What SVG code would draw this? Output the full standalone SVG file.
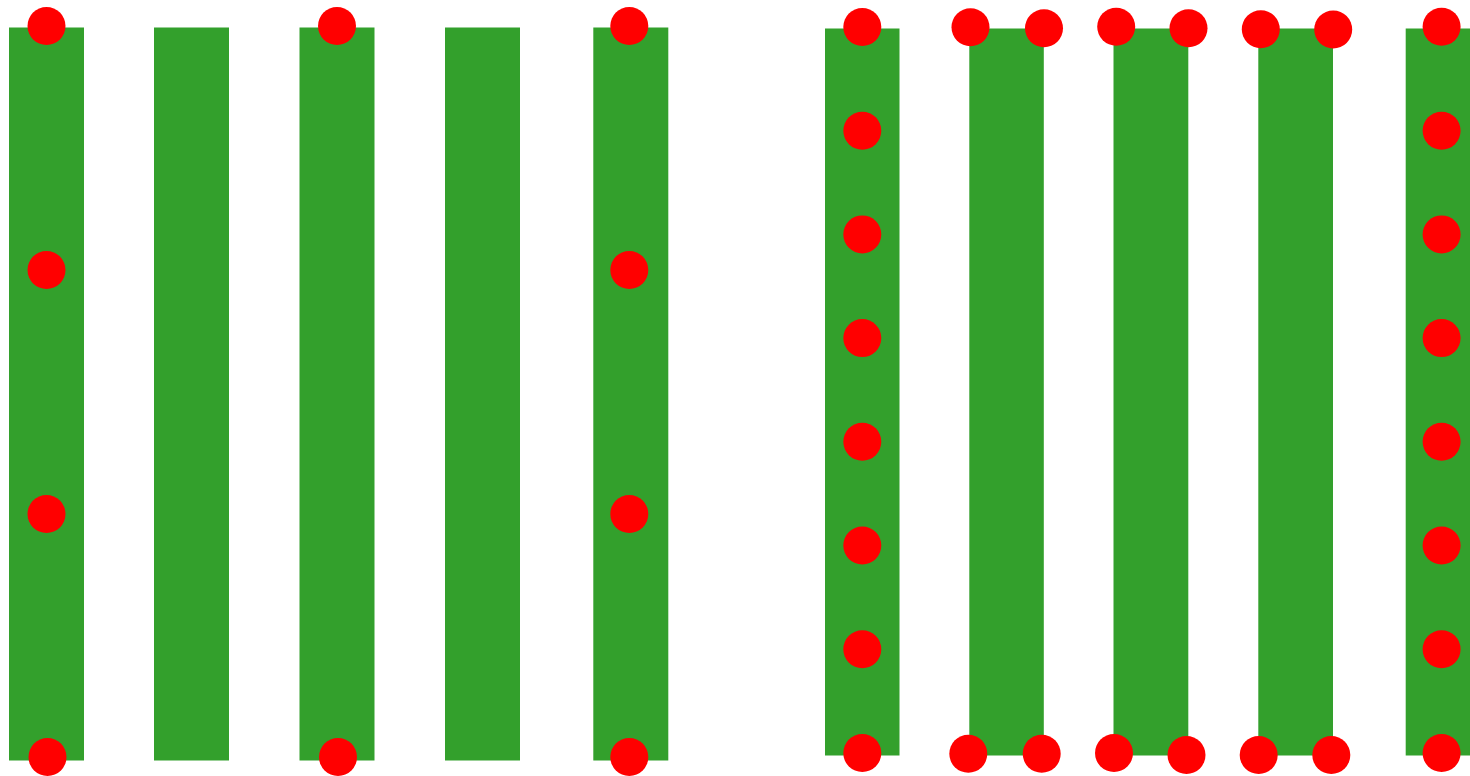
<svg xmlns="http://www.w3.org/2000/svg" width="1470" height="776" viewBox="0 0 1470 776">
<style>
.bar{fill:#33a02c}
.dot{fill:#ff0000}
</style>
<rect width="1470" height="776" fill="#ffffff"/>
<g id="bar1"><rect class="bar" x="9" y="27.5" width="75" height="733"/></g>
<g id="bar2"><rect class="bar" x="154" y="27.5" width="75" height="733"/></g>
<g id="bar3"><rect class="bar" x="299.5" y="27.5" width="75" height="733"/></g>
<g id="bar4"><rect class="bar" x="445" y="27.5" width="75" height="733"/></g>
<g id="bar5"><rect class="bar" x="593.3" y="27.5" width="75" height="733"/></g>
<g id="bar6"><rect class="bar" x="825" y="28.5" width="74.5" height="727"/></g>
<g id="bar7"><rect class="bar" x="969.3" y="28.5" width="74.5" height="727"/></g>
<g id="bar8"><rect class="bar" x="1113.5" y="28.5" width="74.8" height="727"/></g>
<g id="bar9"><rect class="bar" x="1258.3" y="28.5" width="74.7" height="727"/></g>
<g id="bar10"><rect class="bar" x="1405.7" y="28.5" width="75" height="727"/></g>
<g id="dots">
<circle class="dot" cx="46.5" cy="26" r="19"/>
<circle class="dot" cx="46.5" cy="270" r="19"/>
<circle class="dot" cx="46.5" cy="514" r="19"/>
<circle class="dot" cx="47.5" cy="757" r="19"/>
<circle class="dot" cx="337" cy="26" r="19"/>
<circle class="dot" cx="338" cy="757" r="19"/>
<circle class="dot" cx="629.3" cy="26" r="19"/>
<circle class="dot" cx="629.3" cy="270" r="19"/>
<circle class="dot" cx="629.3" cy="514" r="19"/>
<circle class="dot" cx="629.3" cy="757" r="19"/>
<circle class="dot" cx="862.3" cy="27" r="19"/>
<circle class="dot" cx="862.3" cy="130.7" r="19"/>
<circle class="dot" cx="862.3" cy="234.4" r="19"/>
<circle class="dot" cx="862.3" cy="338.1" r="19"/>
<circle class="dot" cx="862.3" cy="441.8" r="19"/>
<circle class="dot" cx="862.3" cy="545.5" r="19"/>
<circle class="dot" cx="862.3" cy="649.2" r="19"/>
<circle class="dot" cx="862.3" cy="753" r="19"/>
<circle class="dot" cx="970.5" cy="27.2" r="19"/>
<circle class="dot" cx="1044" cy="28.2" r="19"/>
<circle class="dot" cx="968.3" cy="753.8" r="19"/>
<circle class="dot" cx="1041.7" cy="753.8" r="19"/>
<circle class="dot" cx="1116.2" cy="26.8" r="19"/>
<circle class="dot" cx="1188.5" cy="28.2" r="19"/>
<circle class="dot" cx="1114" cy="753" r="19"/>
<circle class="dot" cx="1186.5" cy="755" r="19"/>
<circle class="dot" cx="1260.8" cy="29.2" r="19"/>
<circle class="dot" cx="1333.2" cy="29.5" r="19"/>
<circle class="dot" cx="1258.7" cy="755" r="19"/>
<circle class="dot" cx="1331.3" cy="755" r="19"/>
<circle class="dot" cx="1441.6" cy="26.8" r="19"/>
<circle class="dot" cx="1441.6" cy="130.7" r="19"/>
<circle class="dot" cx="1441.6" cy="234.4" r="19"/>
<circle class="dot" cx="1441.6" cy="338.1" r="19"/>
<circle class="dot" cx="1441.6" cy="441.8" r="19"/>
<circle class="dot" cx="1441.6" cy="545.5" r="19"/>
<circle class="dot" cx="1441.6" cy="649.2" r="19"/>
<circle class="dot" cx="1441.6" cy="753" r="19"/>
</g>
</svg>
